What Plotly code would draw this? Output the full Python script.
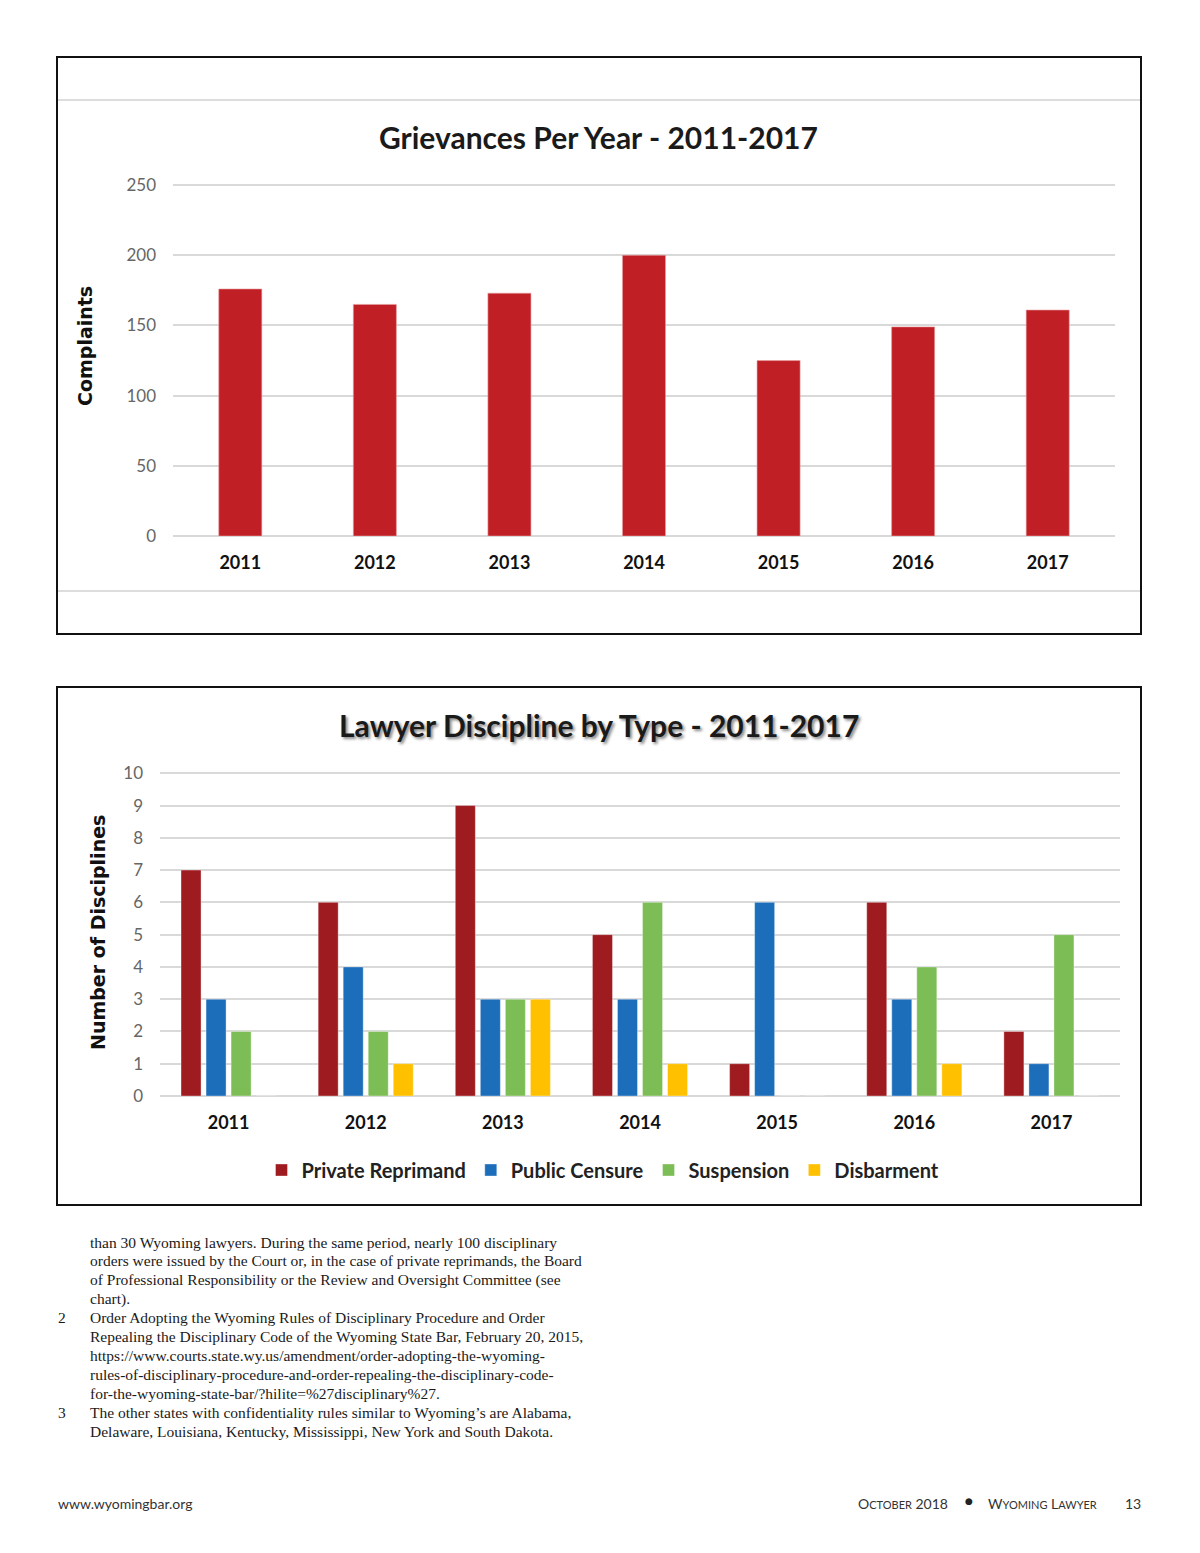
import plotly.graph_objects as go

W, H = 1200, 1553
OX, OY = 8, 8  # page body margin of the browser

# ---- data ----
years = ["2011", "2012", "2013", "2014", "2015", "2016", "2017"]
grievances = [176, 165, 173, 200, 125, 149, 161]

private_reprimand = [7, 6, 9, 5, 1, 6, 2]
public_censure = [3, 4, 3, 3, 6, 3, 1]
suspension = [2, 2, 3, 6, 0, 4, 5]
disbarment = [0, 1, 3, 1, 0, 1, 0]

series_names = ["Private Reprimand", "Public Censure", "Suspension", "Disbarment"]
series_vals = [private_reprimand, public_censure, suspension, disbarment]
series_colors = ["#9E1B20", "#1D6EBA", "#7DBD56", "#FFC000"]

text_lines = [
    "than 30 Wyoming lawyers. During the same period, nearly 100 disciplinary",
    "orders were issued by the Court or, in the case of private reprimands, the Board",
    "of Professional Responsibility or the Review and Oversight Committee (see",
    "chart).",
    "Order Adopting the Wyoming Rules of Disciplinary Procedure and Order",
    "Repealing the Disciplinary Code of the Wyoming State Bar, February 20, 2015,",
    "https://www.courts.state.wy.us/amendment/order-adopting-the-wyoming-",
    "rules-of-disciplinary-procedure-and-order-repealing-the-disciplinary-code-",
    "for-the-wyoming-state-bar/?hilite=%27disciplinary%27.",
    "The other states with confidentiality rules similar to Wyoming’s are Alabama,",
    "Delaware, Louisiana, Kentucky, Mississippi, New York and South Dakota.",
]
footnote_nums = {4: "2", 9: "3"}


def px(x):
    return (x - OX) / W


def py(y):
    return 1 - (y - OY) / H


fig = go.Figure()

# Chart 1
fig.add_trace(go.Bar(
    x=years, y=grievances, marker=dict(color="#C01F26", line=dict(color="#E8A0A0", width=0.6)),
    width=0.32, xaxis="x", yaxis="y", showlegend=False, name="Complaints",
))

# Chart 2
for name, vals, col in zip(series_names, series_vals, series_colors):
    fig.add_trace(go.Bar(
        x=years, y=vals, name=name,
        marker=dict(color=col, line=dict(color="rgba(255,255,255,0.6)", width=0.6)),
        xaxis="x2", yaxis="y2", showlegend=True,
    ))

tickfont = dict(family="Lato", size=17, color="#666666")
xfont = dict(family="Lato", size=18, color="#111111", weight="bold")
grid = "#D9D9D9"

fig.update_layout(
    width=W, height=H,
    margin=dict(l=0, r=0, t=0, b=0, autoexpand=False),
    paper_bgcolor="white", plot_bgcolor="white",
    barmode="group", bargap=0.27, bargroupgap=0.2,
    xaxis=dict(domain=[px(173), px(1115)], anchor="y", tickfont=xfont,
               showgrid=False, showline=False, zeroline=False, ticks="",
               ticklabelstandoff=14),
    yaxis=dict(domain=[py(536), py(184)], anchor="x", range=[0, 250.8], tickvals=[0, 50, 100, 150, 200, 250],
               tickfont=tickfont, gridcolor=grid, gridwidth=2, zeroline=True,
               zerolinecolor=grid, zerolinewidth=2, showline=False, ticks="",
               ticklabelstandoff=16),
    xaxis2=dict(domain=[px(160), px(1120)], anchor="y2", tickfont=xfont,
                showgrid=False, showline=False, zeroline=False, ticks="",
                ticklabelstandoff=14),
    yaxis2=dict(domain=[py(1096), py(772)], anchor="x2", range=[0, 10.04], tickvals=list(range(0, 11)),
                tickfont=tickfont, gridcolor=grid, gridwidth=2, zeroline=True,
                zerolinecolor=grid, zerolinewidth=2, showline=False, ticks="",
                ticklabelstandoff=16),
    legend=dict(orientation="h", x=px(603), xanchor="center", y=py(1170), yanchor="middle",
                font=dict(family="Lato", size=20, color="#222222", weight="bold"),
                bgcolor="rgba(0,0,0,0)", itemwidth=30, tracegroupgap=0),
)

shapes = [
    dict(type="rect", xref="paper", yref="paper", x0=px(57), x1=px(1141), y0=py(634), y1=py(57),
         line=dict(color="#111111", width=2)),
    dict(type="line", xref="paper", yref="paper", x0=px(58), x1=px(1140), y0=py(100), y1=py(100),
         line=dict(color="#DDDDDD", width=2)),
    dict(type="line", xref="paper", yref="paper", x0=px(58), x1=px(1140), y0=py(591), y1=py(591),
         line=dict(color="#DDDDDD", width=2)),
    dict(type="rect", xref="paper", yref="paper", x0=px(57), x1=px(1141), y0=py(1205), y1=py(687),
         line=dict(color="#111111", width=2)),
]
fig.update_layout(shapes=shapes)

ann = []
ann.append(dict(text="Grievances Per Year - 2011-2017", x=px(598), y=py(137), xref="paper", yref="paper",
                showarrow=False, xanchor="center", yanchor="middle",
                font=dict(family="Lato", size=30, color="#1a1a1a", weight="bold")))
ann.append(dict(text="Lawyer Discipline by Type - 2011-2017", x=px(599), y=py(725), xref="paper", yref="paper",
                showarrow=False, xanchor="center", yanchor="middle",
                font=dict(family="Lato", size=30, color="#1a1a1a", weight="bold",
                          shadow="2px 2px 3px #888888")))
ann.append(dict(text="Complaints", x=px(85), y=py(346), xref="paper", yref="paper", textangle=-90,
                showarrow=False, xanchor="center", yanchor="middle",
                font=dict(family="DejaVu Sans", size=19, color="#111111", weight="bold")))
ann.append(dict(text="Number of Disciplines", x=px(98), y=py(933), xref="paper", yref="paper", textangle=-90,
                showarrow=False, xanchor="center", yanchor="middle",
                font=dict(family="DejaVu Sans", size=19, color="#111111", weight="bold")))

serif = dict(family="Liberation Serif", size=15.5, color="#1a1a1a")
y0 = 1242
step = 18.9
for i, line in enumerate(text_lines):
    yy = y0 + i * step
    ann.append(dict(text=line, x=px(88), y=py(yy), xref="paper", yref="paper", showarrow=False,
                    xanchor="left", yanchor="middle", font=serif))
    if i in footnote_nums:
        ann.append(dict(text=footnote_nums[i], x=px(56), y=py(yy), xref="paper", yref="paper",
                        showarrow=False, xanchor="left", yanchor="middle", font=serif))

foot = dict(family="Lato", size=14, color="#333333")
ann.append(dict(text="www.wyomingbar.org", x=px(56), y=py(1503), xref="paper", yref="paper",
                showarrow=False, xanchor="left", yanchor="middle", font=foot))
ann.append(dict(text="O<span style='font-size:11px'>CTOBER</span> 2018", x=px(950), y=py(1503),
                xref="paper", yref="paper", showarrow=False, xanchor="right", yanchor="middle", font=foot))
ann.append(dict(text="●", x=px(969), y=py(1501), xref="paper", yref="paper",
                showarrow=False, xanchor="center", yanchor="middle",
                font=dict(family="DejaVu Sans", size=9, color="#222222")))
ann.append(dict(text="W<span style='font-size:11px'>YOMING</span> L<span style='font-size:11px'>AWYER</span>",
                x=px(986), y=py(1503), xref="paper", yref="paper", showarrow=False,
                xanchor="left", yanchor="middle", font=foot))
ann.append(dict(text="13", x=px(1143), y=py(1503), xref="paper", yref="paper", showarrow=False,
                xanchor="right", yanchor="middle", font=foot))

fig.update_layout(annotations=ann)

fig.write_html("out.html")
